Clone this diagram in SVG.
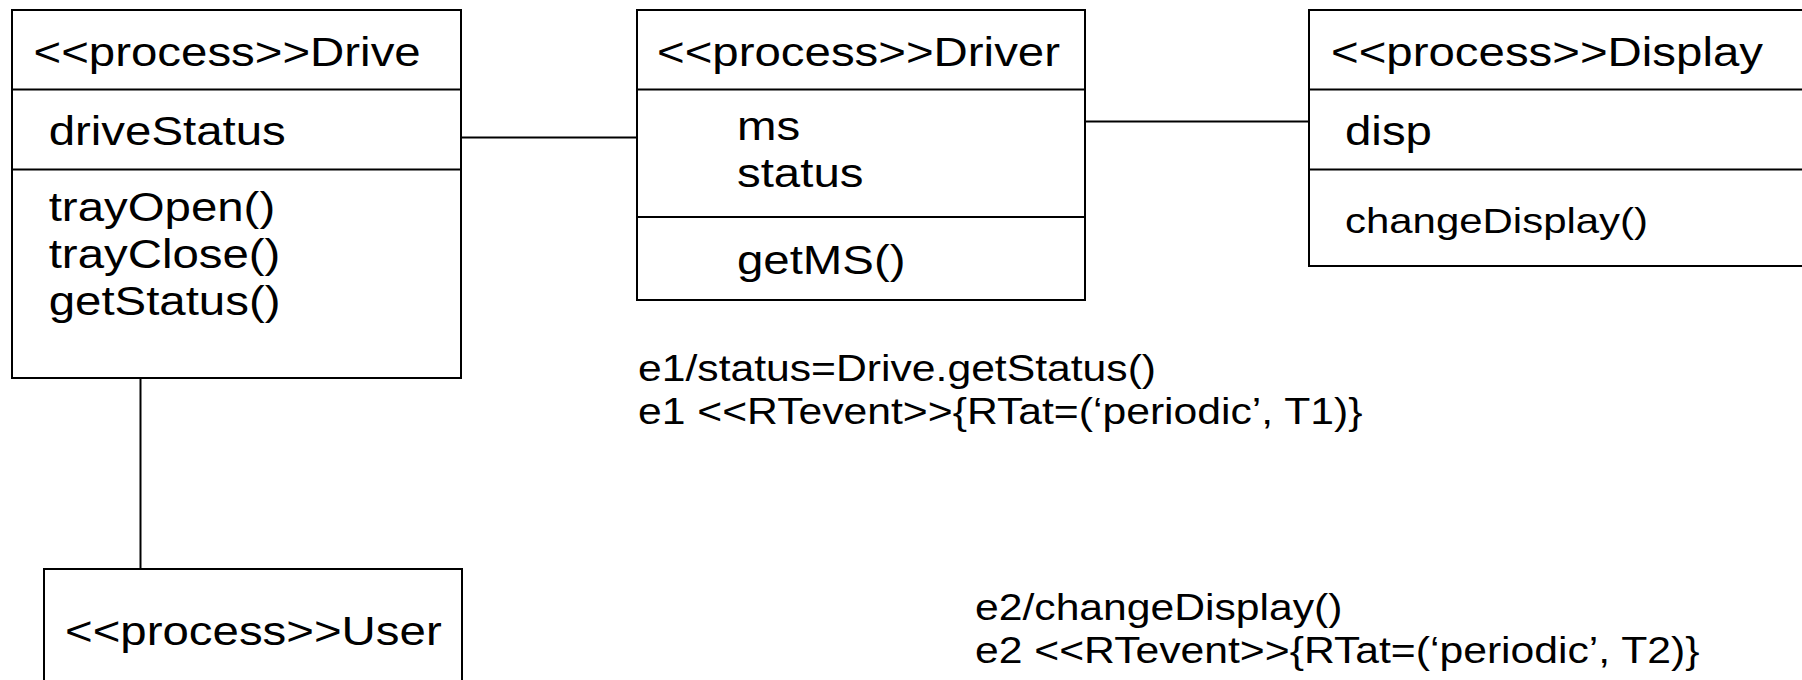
<svg xmlns="http://www.w3.org/2000/svg" width="1802" height="680" viewBox="0 0 1802 680">
  <style>
    .box { fill: #ffffff; stroke: #000000; stroke-width: 2; }
    .sep { stroke: #000000; stroke-width: 2; }
    #connectors line { stroke: #000000; stroke-width: 2; fill: none; }
    text { font-family: "Liberation Sans", Arial, sans-serif; fill: #000000; }
    .lg { font-size: 40px; }
    .md { font-size: 35.4px; }
    .sm { font-size: 36px; }
  </style>

  <rect x="0" y="0" width="1802" height="680" fill="#ffffff"/>

  <!-- associations between the processes -->
  <g id="connectors">
    <line x1="461" y1="137.5" x2="637" y2="137.5"/>
    <line x1="1085" y1="121.5" x2="1309" y2="121.5"/>
    <line x1="140.5" y1="378" x2="140.5" y2="569"/>
  </g>

  <!-- Drive process class -->
  <g id="node-drive">
    <rect class="box" x="12" y="10" width="449" height="368"/>
    <line class="sep" x1="12" y1="89.5" x2="461" y2="89.5"/>
    <line class="sep" x1="12" y1="169.5" x2="461" y2="169.5"/>
    <text class="lg" transform="translate(33.5 66) scale(1.185 1)">&lt;&lt;process&gt;&gt;Drive</text>
    <text class="lg" transform="translate(48.7 145) scale(1.185 1)">driveStatus</text>
    <text class="lg" transform="translate(48.7 220.5) scale(1.185 1)">trayOpen()</text>
    <text class="lg" transform="translate(48.7 267.5) scale(1.185 1)">trayClose()</text>
    <text class="lg" transform="translate(48.7 314.5) scale(1.185 1)">getStatus()</text>
  </g>

  <!-- Driver process class -->
  <g id="node-driver">
    <rect class="box" x="637" y="10" width="448" height="290"/>
    <line class="sep" x1="637" y1="89.5" x2="1085" y2="89.5"/>
    <line class="sep" x1="637" y1="217" x2="1085" y2="217"/>
    <text class="lg" transform="translate(657 66) scale(1.185 1)">&lt;&lt;process&gt;&gt;Driver</text>
    <text class="lg" transform="translate(737 140) scale(1.185 1)">ms</text>
    <text class="lg" transform="translate(737 187) scale(1.185 1)">status</text>
    <text class="lg" transform="translate(737 274) scale(1.185 1)">getMS()</text>
  </g>

  <!-- Display process class (runs past the right edge) -->
  <g id="node-display">
    <rect class="box" x="1309" y="10" width="520" height="256"/>
    <line class="sep" x1="1309" y1="89.5" x2="1829" y2="89.5"/>
    <line class="sep" x1="1309" y1="169.5" x2="1829" y2="169.5"/>
    <text class="lg" transform="translate(1331 66) scale(1.185 1)">&lt;&lt;process&gt;&gt;Display</text>
    <text class="lg" transform="translate(1345 145) scale(1.185 1)">disp</text>
    <text class="md" transform="translate(1345 233) scale(1.185 1)">changeDisplay()</text>
  </g>

  <!-- User process class (runs past the bottom edge) -->
  <g id="node-user">
    <rect class="box" x="44" y="569" width="418" height="140"/>
    <text class="lg" transform="translate(65 645) scale(1.185 1)">&lt;&lt;process&gt;&gt;User</text>
  </g>

  <!-- periodic event annotations -->
  <g id="note-e1">
    <text class="sm" transform="translate(638 381) scale(1.185 1)">e1/status=Drive.getStatus()</text>
    <text class="sm" transform="translate(638 424) scale(1.185 1)">e1 &lt;&lt;RTevent&gt;&gt;{RTat=(‘periodic’, T1)}</text>
  </g>
  <g id="note-e2">
    <text class="sm" transform="translate(975 620) scale(1.185 1)">e2/changeDisplay()</text>
    <text class="sm" transform="translate(975 663) scale(1.185 1)">e2 &lt;&lt;RTevent&gt;&gt;{RTat=(‘periodic’, T2)}</text>
  </g>
</svg>
